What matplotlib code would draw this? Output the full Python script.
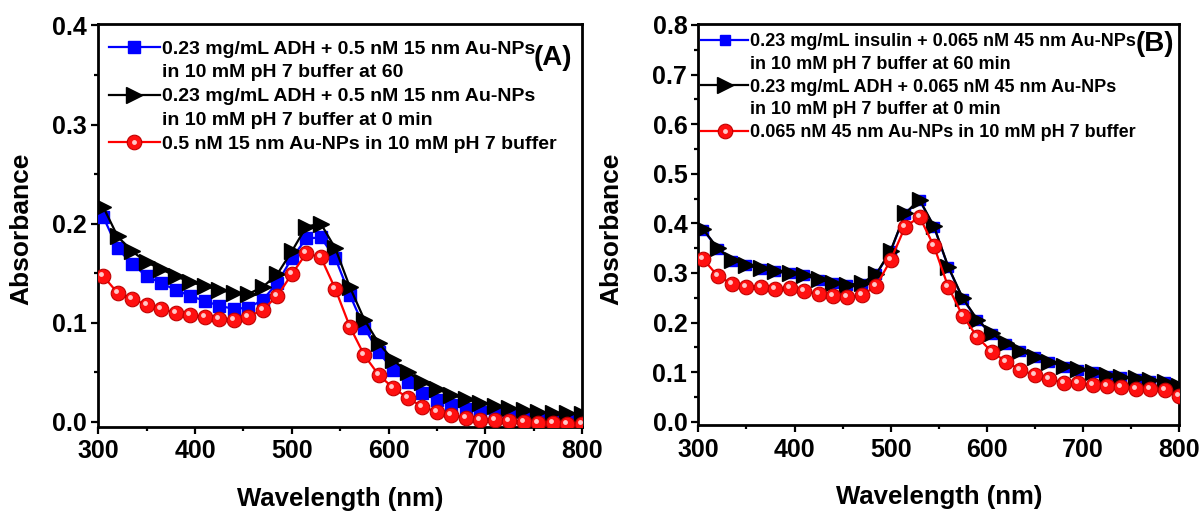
import numpy as np
import matplotlib
matplotlib.use("Agg")
import matplotlib.pyplot as plt
import matplotlib.transforms as mtransforms
from matplotlib.lines import Line2D
from matplotlib.legend_handler import HandlerTuple
from matplotlib.ticker import MultipleLocator

plt.rcParams['font.family'] = ['Liberation Sans', 'DejaVu Sans']
plt.rcParams['font.weight'] = 'bold'

# wavelengths where markers sit (nm)
wl = [305, 320, 335, 350, 365, 380, 395, 410, 425, 440, 455, 470, 485, 500, 515, 530, 545,
      560, 575, 590, 605, 620, 635, 650, 665, 680, 695, 710, 725, 740, 755, 770, 785, 800]

# panel A: ADH + 15 nm Au-NPs
a_60min = [0.207, 0.175, 0.159, 0.147, 0.140, 0.133, 0.127, 0.122, 0.117, 0.114, 0.115, 0.123,
           0.140, 0.165, 0.185, 0.186, 0.165, 0.128, 0.095, 0.070, 0.052, 0.040, 0.029, 0.022,
           0.017, 0.013, 0.010, 0.008, 0.006, 0.005, 0.004, 0.003, 0.002, 0.002]
a_0min = [0.217, 0.187, 0.172, 0.161, 0.154, 0.147, 0.141, 0.137, 0.133, 0.130, 0.129, 0.136,
          0.149, 0.172, 0.197, 0.200, 0.175, 0.136, 0.103, 0.079, 0.062, 0.050, 0.040, 0.033,
          0.027, 0.023, 0.019, 0.016, 0.014, 0.012, 0.010, 0.009, 0.009, 0.008]
a_np = [0.147, 0.130, 0.124, 0.118, 0.114, 0.110, 0.108, 0.106, 0.104, 0.103, 0.106, 0.113,
        0.127, 0.149, 0.170, 0.166, 0.134, 0.096, 0.067, 0.047, 0.034, 0.024, 0.015, 0.010,
        0.007, 0.004, 0.002, 0.002, 0.001, 0.000, -0.001, -0.001, -0.002, -0.002]

# panel B: insulin / ADH + 45 nm Au-NPs
b_60min = [0.387, 0.349, 0.325, 0.315, 0.308, 0.303, 0.299, 0.295, 0.286, 0.279, 0.275, 0.278,
           0.297, 0.344, 0.419, 0.447, 0.393, 0.311, 0.248, 0.205, 0.177, 0.157, 0.142, 0.130,
           0.120, 0.111, 0.105, 0.100, 0.093, 0.090, 0.087, 0.083, 0.080, 0.070]
b_0min = [0.388, 0.350, 0.326, 0.316, 0.309, 0.304, 0.300, 0.296, 0.287, 0.280, 0.276, 0.279,
          0.298, 0.345, 0.420, 0.448, 0.394, 0.312, 0.249, 0.206, 0.178, 0.158, 0.143, 0.131,
          0.121, 0.112, 0.106, 0.101, 0.094, 0.091, 0.088, 0.084, 0.081, 0.071]
b_np = [0.328, 0.294, 0.278, 0.271, 0.272, 0.267, 0.269, 0.264, 0.257, 0.253, 0.251, 0.255,
        0.274, 0.326, 0.393, 0.413, 0.354, 0.271, 0.213, 0.171, 0.141, 0.121, 0.104, 0.094,
        0.086, 0.079, 0.077, 0.074, 0.071, 0.069, 0.066, 0.066, 0.063, 0.052]

# legend rows; the second row of a two-line entry gets no handle
labels_a = [["0.23 mg/mL ADH + 0.5 nM 15 nm Au-NPs", "in 10 mM pH 7 buffer at 60"],
            ["0.23 mg/mL ADH + 0.5 nM 15 nm Au-NPs", "in 10 mM pH 7 buffer at 0 min"],
            ["0.5 nM 15 nm Au-NPs in 10 mM pH 7 buffer"]]
labels_b = [["0.23 mg/mL insulin + 0.065 nM 45 nm Au-NPs", "in 10 mM pH 7 buffer at 60 min"],
            ["0.23 mg/mL ADH + 0.065 nM 45 nm Au-NPs", "in 10 mM pH 7 buffer at 0 min"],
            ["0.065 nM 45 nm Au-NPs in 10 mM pH 7 buffer"]]

fig = plt.figure(figsize=(12.02, 5.11), dpi=100)
axA = fig.add_axes([0.0818, 0.165, 0.4024, 0.789])
axB = fig.add_axes([0.5810, 0.168, 0.4000, 0.786])


def draw_panel(ax, s60, s0, snp, labels, ylim, tag, legfs, legls, legpos, tagpos,
               ylab_x, sq_ms):
    l1, = ax.plot(wl, s60, '-s', color='#0000ff', lw=1.6, ms=sq_ms, mec='#0000ff', zorder=3)
    l2, = ax.plot(wl, s0, '->', color='black', lw=1.6, ms=12, zorder=4)
    l3, = ax.plot(wl, snp, '-o', color='#ff0000', lw=1.6, ms=10.5, mfc='#ff1010', mec='#c00000',
                  mew=0.8, zorder=5)
    # little highlight on the red balls
    shine = mtransforms.offset_copy(ax.transData, fig=fig, x=-2, y=2, units='dots')
    hl, = ax.plot(wl, snp, 'o', ms=3.5, color='#ffc8c8', mec='none', transform=shine, zorder=6)

    ax.set_xlim(300, 800)
    ax.set_ylim(*ylim)
    ax.xaxis.set_major_locator(MultipleLocator(100))
    ax.xaxis.set_minor_locator(MultipleLocator(50))
    ax.yaxis.set_major_locator(MultipleLocator(0.1))
    ax.yaxis.set_minor_locator(MultipleLocator(0.05))
    ax.tick_params(which='both', direction='out', width=1.6, labelsize=18)
    ax.tick_params(which='major', length=5)
    ax.tick_params(which='minor', length=3)
    ax.tick_params(axis='x', pad=4)
    ax.tick_params(axis='y', pad=3)
    for sp in ax.spines.values():
        sp.set_linewidth(2.0)
    for t in ax.get_xticklabels() + ax.get_yticklabels():
        t.set_fontweight('bold')

    ax.set_xlabel('Wavelength (nm)', fontsize=18.5, fontweight='bold', labelpad=17)
    ax.set_ylabel('Absorbance', fontsize=19, fontweight='bold')
    ax.yaxis.set_label_coords(ylab_x, 0.49)

    blank = Line2D([], [], linestyle='none', marker='none')
    handles, texts = [], []
    for h, rows in zip([l1, l2, (l3, hl)], labels):
        handles.append(h)
        texts.append(rows[0])
        for r in rows[1:]:
            handles.append(blank)
            texts.append(r)
    leg = ax.legend(handles, texts, loc='upper left', bbox_to_anchor=legpos,
                    frameon=False, fontsize=legfs, handlelength=2.6, handletextpad=0.12,
                    labelspacing=legls, borderpad=0, borderaxespad=0,
                    handler_map={tuple: HandlerTuple(ndivide=1)})
    for t in leg.get_texts():
        t.set_fontweight('bold')

    ax.text(tagpos[0], tagpos[1], tag, transform=ax.transAxes, fontsize=20,
            fontweight='bold', ha='center', va='center')


draw_panel(axA, a_60min, a_0min, a_np, labels_a, (-0.005, 0.402), '(A)', 14.0, 0.32,
           (0.022, 0.959), (0.94, 0.915), -0.135, 9)
draw_panel(axB, b_60min, b_0min, b_np, labels_b, (-0.007, 0.803), '(B)', 13.0, 0.32,
           (0.006, 0.976), (0.95, 0.95), -0.157, 6.5)

fig.savefig('out.png', dpi=100)
